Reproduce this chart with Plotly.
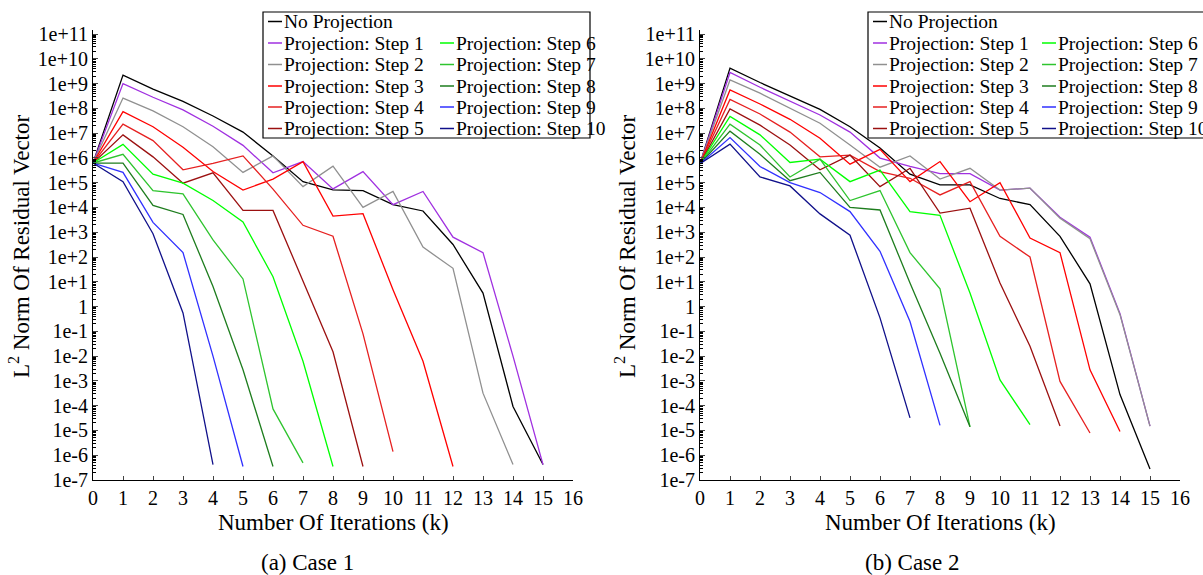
import plotly.graph_objects as go

W, H = 1203, 575

series_names = ["No Projection"] + ["Projection: Step %d" % i for i in range(1, 11)]
colors = ["#000000", "#a030e0", "#909090", "#ff0000", "#e62020", "#9b1010",
          "#00ff00", "#2ec42e", "#1e7d1e", "#3030ff", "#10108a"]
x_ticks = list(range(0, 17))
y_tick_exps = list(range(-7, 12))
y_tick_text = ["1e%d" % e if e < 0 else ("1" if e == 0 else "1e+%d" % e) for e in y_tick_exps]

# ---- Case 1 ----
c1_none = [6.2e5, 2.2e9, 6.0e8, 1.9e8, 4.9e7, 1.1e7, 1.2e6, 1.1e5, 5.1e4, 4.8e4, 1.3e4, 7.2e3, 3.2e2, 3.5, 9.3e-5, 4.2e-7]
c1_s1 = [6.2e5, 1.0e9, 2.8e8, 8.7e7, 1.9e7, 3.2e6, 2.5e5, 7.1e5, 5.6e4, 2.8e5, 1.3e4, 4.4e4, 6.3e2, 1.5e2, 1.0e-2, 4.2e-7]
c1_s2 = [6.2e5, 2.6e8, 7.9e7, 1.8e7, 2.8e6, 2.6e5, 1.2e6, 6.9e4, 4.6e5, 1.0e4, 4.4e4, 2.5e2, 35, 3.2e-4, 4.2e-7]
c1_s3 = [6.2e5, 7.4e7, 1.8e7, 2.7e6, 2.8e5, 5.0e4, 1.4e5, 7.1e5, 4.5e3, 5.6e3, 4.8, 6.2e-3, 3.5e-7]
c1_s4 = [6.2e5, 2.3e7, 5.0e6, 3.3e5, 6.0e5, 1.2e6, 5.5e4, 1.9e3, 6.9e2, 7.9e-2, 1.4e-6]
c1_s5 = [6.2e5, 8.5e6, 1.1e6, 9.5e4, 2.5e5, 7.6e3, 7.6e3, 11, 1.5e-2, 3.5e-7]
c1_s6 = [6.2e5, 3.5e6, 2.2e5, 9.5e4, 1.9e4, 2.6e3, 16, 6.2e-3, 3.5e-7]
c1_s7 = [6.2e5, 1.4e6, 4.8e4, 3.5e4, 4.9e2, 13, 7.4e-5, 4.9e-7]
c1_s8 = [6.2e5, 6.2e5, 1.2e4, 5.2e3, 6.5, 2.8e-3, 3.5e-7]
c1_s9 = [6.2e5, 2.6e5, 2.5e3, 1.5e2, 1.0e-2, 3.5e-7]
c1_s10 = [6.2e5, 1.1e5, 8.7e2, 0.55, 4.2e-7]
case1 = [c1_none, c1_s1, c1_s2, c1_s3, c1_s4, c1_s5, c1_s6, c1_s7, c1_s8, c1_s9, c1_s10]

# ---- Case 2 ----
c2_none = [5.8e5, 4.2e9, 1.1e9, 3.2e8, 9.1e7, 1.8e7, 2.5e6, 2.2e5, 8.1e4, 8.1e4, 2.3e4, 1.3e4, 6.8e2, 8.3, 2.8e-4, 2.8e-7]
c2_s1 = [5.8e5, 2.8e9, 7.1e8, 1.9e8, 5.4e7, 1.1e7, 9.8e5, 4.5e5, 2.3e5, 2.3e5, 5.0e4, 6.0e4, 4.0e3, 6.3e2, 0.52, 1.5e-5]
c2_s2 = [5.8e5, 1.4e9, 4.1e8, 1.0e8, 2.5e7, 3.3e6, 4.2e5, 1.2e6, 1.4e5, 3.8e5, 5.0e4, 6.0e4, 3.7e3, 5.5e2, 0.47, 1.5e-5]
c2_s3 = [5.8e5, 5.5e8, 1.5e8, 3.6e7, 6.2e6, 5.6e5, 2.2e6, 1.1e5, 7.1e5, 1.7e4, 1.0e5, 5.8e2, 1.5e2, 2.8e-3, 9.1e-6]
c2_s4 = [5.8e5, 2.3e8, 5.9e7, 1.1e7, 1.1e6, 1.3e6, 2.8e5, 1.5e5, 3.2e4, 1.1e5, 6.8e2, 1.0e2, 9.5e-4, 7.9e-6]
c2_s5 = [5.8e5, 9.5e7, 2.1e7, 3.3e6, 3.3e5, 1.3e6, 6.9e4, 3.8e5, 5.9e3, 9.3e3, 8.9, 2.5e-2, 1.5e-5]
c2_s6 = [5.8e5, 4.7e7, 8.5e6, 6.5e5, 8.9e5, 1.1e5, 3.2e5, 6.8e3, 4.8e3, 3.5, 1.1e-3, 1.7e-5]
c2_s7 = [5.8e5, 2.3e7, 3.3e6, 1.7e5, 8.9e5, 1.9e4, 4.8e4, 1.5e2, 5.2, 1.4e-5]
c2_s8 = [5.8e5, 1.2e7, 1.4e6, 1.2e5, 2.6e5, 1.0e4, 7.9e3, 8.9, 1.3e-2, 1.4e-5]
c2_s9 = [5.8e5, 6.6e6, 4.5e5, 1.0e5, 4.0e4, 6.8e3, 1.7e2, 0.25, 1.6e-5]
c2_s10 = [5.8e5, 3.6e6, 1.7e5, 7.4e4, 5.5e3, 7.6e2, 0.35, 3.2e-5]
case2 = [c2_none, c2_s1, c2_s2, c2_s3, c2_s4, c2_s5, c2_s6, c2_s7, c2_s8, c2_s9, c2_s10]

FONT = "Liberation Serif"
fig = go.Figure()


def px_x(p):
    return p / W


def px_y(p):
    return 1 - p / H


panels = [
    dict(data=case1, xa="x", ya="y", x0=93, x1=573, caption="(a) Case 1", cap_x=307,
         xt_x=333, yt_x=20, lg_x0=263, lg_x1=590, col1=268, col2=440),
    dict(data=case2, xa="x2", ya="y2", x0=700, x1=1180, caption="(b) Case 2", cap_x=912,
         xt_x=940, yt_x=626, lg_x0=868, lg_x1=1215, col1=873, col2=1042),
]

y_top_px, y_bot_px = 30, 480
annotations = []
shapes = []
for p in panels:
    for name, color, vals in zip(series_names, colors, p["data"]):
        fig.add_trace(go.Scatter(x=x_ticks[:len(vals)], y=vals, mode="lines", name=name,
                                 line=dict(color=color, width=1.3), xaxis=p["xa"], yaxis=p["ya"],
                                 showlegend=False))
    annotations.append(dict(text="Number Of Iterations (k)", x=px_x(p["xt_x"]), y=px_y(522),
                            xref="paper", yref="paper", showarrow=False,
                            xanchor="center", yanchor="middle",
                            font=dict(family=FONT, size=23, color="black")))
    annotations.append(dict(text="L<sup>2</sup> Norm Of Residual Vector", x=px_x(p["yt_x"]), y=px_y(247),
                            xref="paper", yref="paper", showarrow=False, textangle=-90,
                            xanchor="center", yanchor="middle",
                            font=dict(family=FONT, size=23, color="black")))
    annotations.append(dict(text=p["caption"], x=px_x(p["cap_x"]), y=px_y(562),
                            xref="paper", yref="paper", showarrow=False,
                            xanchor="center", yanchor="middle",
                            font=dict(family=FONT, size=23, color="black")))
    shapes.append(dict(type="rect", xref="paper", yref="paper", layer="above",
                       x0=px_x(p["lg_x0"]), x1=px_x(p["lg_x1"]), y0=px_y(138), y1=px_y(12),
                       line=dict(color="black", width=1.2), fillcolor="white"))
    rows = [21.5, 43, 64.5, 86, 107, 128.5]
    for i, (name, color) in enumerate(zip(series_names, colors)):
        if i <= 5:
            cx, ry = p["col1"], rows[i]
        else:
            cx, ry = p["col2"], rows[i - 5]
        shapes.append(dict(type="line", xref="paper", yref="paper", layer="above",
                           x0=px_x(cx), x1=px_x(cx + 14), y0=px_y(ry), y1=px_y(ry),
                           line=dict(color=color, width=1.5)))
        annotations.append(dict(text=name, x=px_x(cx + 14), y=px_y(ry), xref="paper", yref="paper",
                                xanchor="left", yanchor="middle", showarrow=False,
                                font=dict(family=FONT, size=19.5, color="black")))

axis_common = dict(showline=True, linecolor="black", linewidth=1, showgrid=False, zeroline=False,
                   automargin=False, tickfont=dict(family=FONT, size=20, color="black"))
layout_axes = {}
for i, p in enumerate(panels):
    sx = "" if i == 0 else "2"
    layout_axes["xaxis" + sx] = dict(axis_common, domain=[px_x(p["x0"]), px_x(p["x1"])], range=[0, 16],
                                     tickmode="array", tickvals=x_ticks, ticks="inside", ticklen=4,
                                     anchor="y" + sx)
    layout_axes["yaxis" + sx] = dict(axis_common, type="log", domain=[px_y(y_bot_px), px_y(y_top_px)],
                                     range=[-7, 11 + 4 / 24.8], tickmode="array",
                                     tickvals=[10.0 ** e for e in y_tick_exps], ticktext=y_tick_text,
                                     ticks="inside", ticklen=5,
                                     minor=dict(ticks="inside", ticklen=3, dtick="D1", tickcolor="black"),
                                     anchor="x" + sx)

fig.update_layout(width=W, height=H, margin=dict(l=0, r=0, t=0, b=0, autoexpand=False),
                  paper_bgcolor="white", plot_bgcolor="white",
                  font=dict(family=FONT, color="black"),
                  annotations=annotations, shapes=shapes, **layout_axes)

fig.write_html("out.html", config={"displayModeBar": False},
               post_script="document.body.style.margin='0';document.body.style.overflow='hidden';")
